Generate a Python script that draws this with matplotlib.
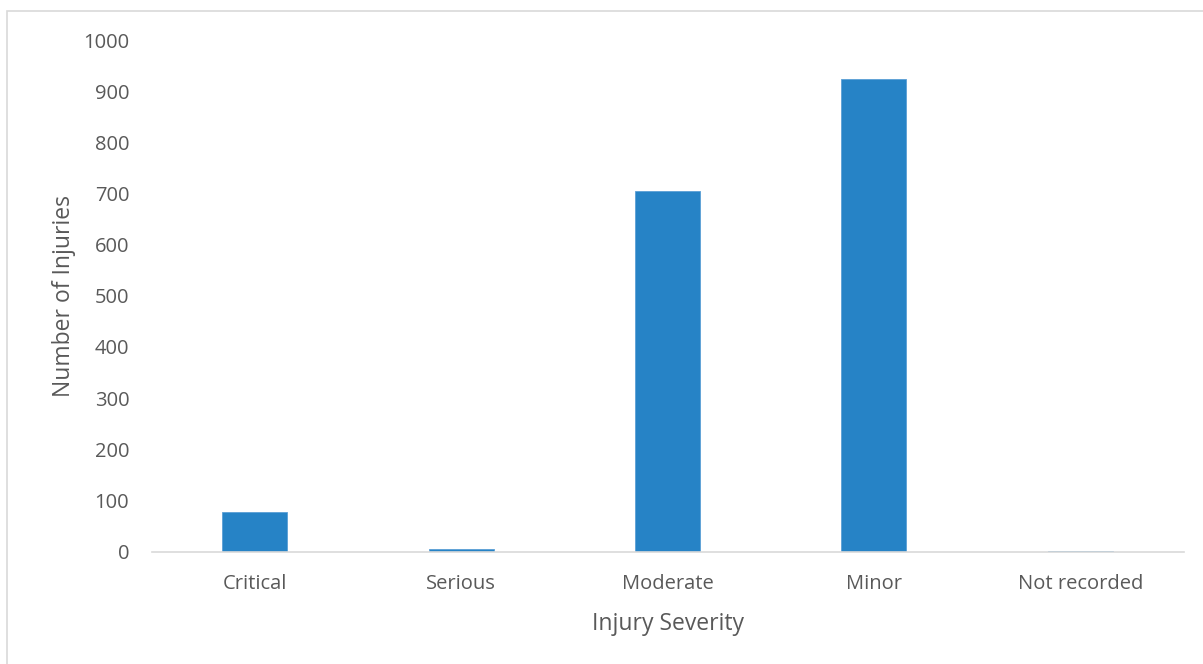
import matplotlib.pyplot as plt
from matplotlib.patches import Rectangle

categories = ['Critical', 'Serious', 'Moderate', 'Minor', 'Not recorded']
injuries = [77, 4, 705, 924, 1]

plt.rcParams['font.family'] = ['Open Sans', 'DejaVu Sans']
text_color = '#595959'

fig = plt.figure(figsize=(12.03, 6.64), dpi=100)
# chart frame (only left/top edges visible in the crop)
fig.patches.append(Rectangle((7 / 1203, -0.1), 1.2, 1.1 - 11 / 664,
                             transform=fig.transFigure, fill=False,
                             edgecolor='#d9d9d9', linewidth=1.2))

ax = fig.add_axes([151.5 / 1203, 1 - 551.5 / 664, 1032 / 1203, 511.5 / 664])
x = range(len(categories))
ax.bar(x, injuries, width=0.315, color='#2683c6', edgecolor='#5a9fd6', linewidth=0.6)

ax.set_xlim(-0.5, len(categories) - 0.5)
ax.set_ylim(0, 1000)
ax.set_yticks(range(0, 1001, 100))
ax.set_xticks(list(x))
ax.set_xticklabels(categories)

for s in ['top', 'right', 'left']:
    ax.spines[s].set_visible(False)
ax.spines['bottom'].set_color('#d9d9d9')
ax.spines['bottom'].set_linewidth(1.2)
ax.tick_params(axis='both', length=0, labelsize=14.5, colors=text_color)
ax.tick_params(axis='y', pad=16)
ax.tick_params(axis='x', pad=16)

ax.set_xlabel('Injury Severity', fontsize=16.5, color=text_color, labelpad=13)
ax.set_ylabel('Number of Injuries', fontsize=16.5, color=text_color, labelpad=5)

fig.savefig('out.png', dpi=100)
